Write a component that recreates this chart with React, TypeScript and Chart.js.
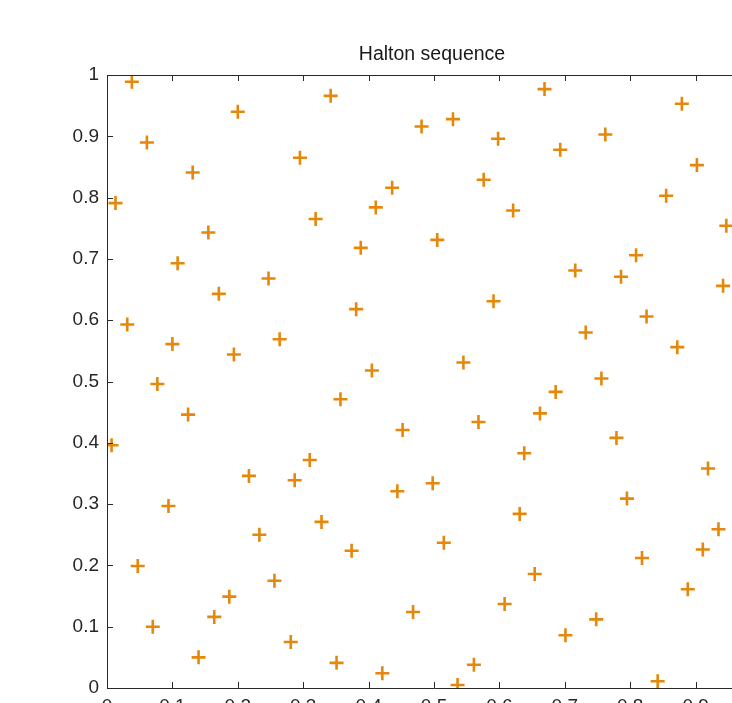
import React, { useEffect, useRef } from "react";
import { Chart, registerables } from "chart.js";

Chart.register(...registerables);

const titleText = "Halton sequence";

const xValues = [
  0.007, 0.013, 0.038, 0.031, 0.061, 0.047, 0.077, 0.070, 0.094, 0.100,
  0.108, 0.124, 0.131, 0.140, 0.155, 0.164, 0.171, 0.187, 0.194, 0.200,
  0.217, 0.233, 0.247, 0.256, 0.264, 0.281, 0.287, 0.295, 0.310, 0.319,
  0.328, 0.342, 0.351, 0.357, 0.374, 0.381, 0.388, 0.405, 0.411, 0.421,
  0.436, 0.444, 0.452, 0.468, 0.481, 0.498, 0.505, 0.515, 0.529, 0.536,
  0.545, 0.561, 0.568, 0.576, 0.591, 0.598, 0.608, 0.621, 0.631, 0.638,
  0.654, 0.662, 0.669, 0.686, 0.693, 0.701, 0.716, 0.732, 0.748, 0.756,
  0.762, 0.779, 0.786, 0.795, 0.809, 0.818, 0.825, 0.842, 0.855, 0.872,
  0.879, 0.888, 0.902, 0.911, 0.919, 0.935, 0.942, 0.947,
];

const yValues = [
  0.396, 0.791, 0.989, 0.593, 0.890, 0.199, 0.496, 0.100, 0.297, 0.561,
  0.693, 0.446, 0.841, 0.050, 0.743, 0.116, 0.643, 0.149, 0.544, 0.940,
  0.346, 0.250, 0.668, 0.175, 0.569, 0.075, 0.339, 0.865, 0.372, 0.765,
  0.271, 0.966, 0.041, 0.471, 0.224, 0.618, 0.718, 0.518, 0.784, 0.024,
  0.816, 0.321, 0.421, 0.124, 0.916, 0.334, 0.731, 0.237, 0.928, 0.005,
  0.531, 0.038, 0.434, 0.829, 0.631, 0.896, 0.137, 0.779, 0.284, 0.383,
  0.186, 0.448, 0.977, 0.483, 0.878, 0.086, 0.681, 0.580, 0.112, 0.505,
  0.903, 0.408, 0.671, 0.309, 0.706, 0.212, 0.606, 0.011, 0.803, 0.556,
  0.953, 0.161, 0.853, 0.226, 0.358, 0.259, 0.656, 0.754,
];

const axisMin = 0;
const axisMax = 1;
const tickStep = 0.1;

const FONT = "'Liberation Sans', Arial, Helvetica, sans-serif";
const AXIS_COLOR = "#2a2a2a";
const MARKER_COLOR = "#E5870A";

const fmt = (v: any) => String(Number(Number(v).toFixed(1)));

const boxPlugin = {
  id: "matlabBox",
  afterDraw(chart: any) {
    const { ctx, chartArea } = chart;
    const { left, right, top, bottom } = chartArea;
    const xs = chart.scales.x;
    const ys = chart.scales.y;
    const tl = 6;
    ctx.save();
    ctx.strokeStyle = AXIS_COLOR;
    ctx.lineWidth = 1;
    ctx.beginPath();
    ctx.rect(Math.round(left) + 0.5, Math.round(top) + 0.5, Math.round(right - left), Math.round(bottom - top));
    ctx.stroke();
    ctx.beginPath();
    xs.ticks.forEach((t: any) => {
      const px = Math.round(xs.getPixelForValue(t.value)) + 0.5;
      ctx.moveTo(px, bottom);
      ctx.lineTo(px, bottom - tl);
      ctx.moveTo(px, top);
      ctx.lineTo(px, top + tl);
    });
    ys.ticks.forEach((t: any) => {
      const py = Math.round(ys.getPixelForValue(t.value)) + 0.5;
      ctx.moveTo(left, py);
      ctx.lineTo(left + tl, py);
      ctx.moveTo(right, py);
      ctx.lineTo(right - tl, py);
    });
    ctx.stroke();
    ctx.fillStyle = "#1a1a1a";
    ctx.font = `19.5px ${FONT}`;
    ctx.textAlign = "center";
    ctx.textBaseline = "alphabetic";
    ctx.fillText(titleText, (left + right) / 2 - 2, top - 15);
    ctx.restore();
  },
};

export default function App() {
  const canvasRef = useRef<HTMLCanvasElement | null>(null);

  useEffect(() => {
    const canvas = canvasRef.current;
    if (!canvas) return;
    const points = xValues.map((x, i) => ({ x, y: yValues[i] }));
    const chart = new Chart(canvas, {
      type: "scatter",
      data: {
        datasets: [
          {
            data: points,
            pointStyle: "cross",
            pointRadius: 7,
            pointHoverRadius: 7,
            pointBorderWidth: 2.6,
            borderColor: MARKER_COLOR,
            backgroundColor: MARKER_COLOR,
            pointBorderColor: MARKER_COLOR,
          },
        ],
      },
      plugins: [boxPlugin],
      options: {
        responsive: false,
        animation: false,
        devicePixelRatio: 1,
        layout: { padding: { left: 47, right: 39, top: 75, bottom: 0 } },
        plugins: {
          legend: { display: false },
          tooltip: { enabled: false },
          title: { display: false },
        },
        scales: {
          x: {
            type: "linear",
            min: axisMin,
            max: axisMax,
            grid: { display: false, drawTicks: false },
            border: { display: false },
            ticks: {
              stepSize: tickStep,
              padding: 7,
              color: "#262626",
              font: { family: FONT, size: 19 },
              maxRotation: 0,
              autoSkip: false,
              callback: fmt,
            },
            afterFit(scale: any) {
              scale.height = 72;
            },
          },
          y: {
            type: "linear",
            min: axisMin,
            max: axisMax,
            grid: { display: false, drawTicks: false },
            border: { display: false },
            ticks: {
              stepSize: tickStep,
              padding: 8,
              color: "#262626",
              font: { family: FONT, size: 19 },
              autoSkip: false,
              callback: fmt,
            },
            afterFit(scale: any) {
              scale.width = 60;
            },
          },
        },
      },
    });
    return () => chart.destroy();
  }, []);

  return (
    <div
      style={{
        position: "fixed",
        left: 0,
        top: 0,
        width: 732,
        height: 703,
        overflow: "hidden",
        background: "#ffffff",
      }}
    >
      <canvas ref={canvasRef} width={800} height={760} style={{ display: "block" }} />
    </div>
  );
}
